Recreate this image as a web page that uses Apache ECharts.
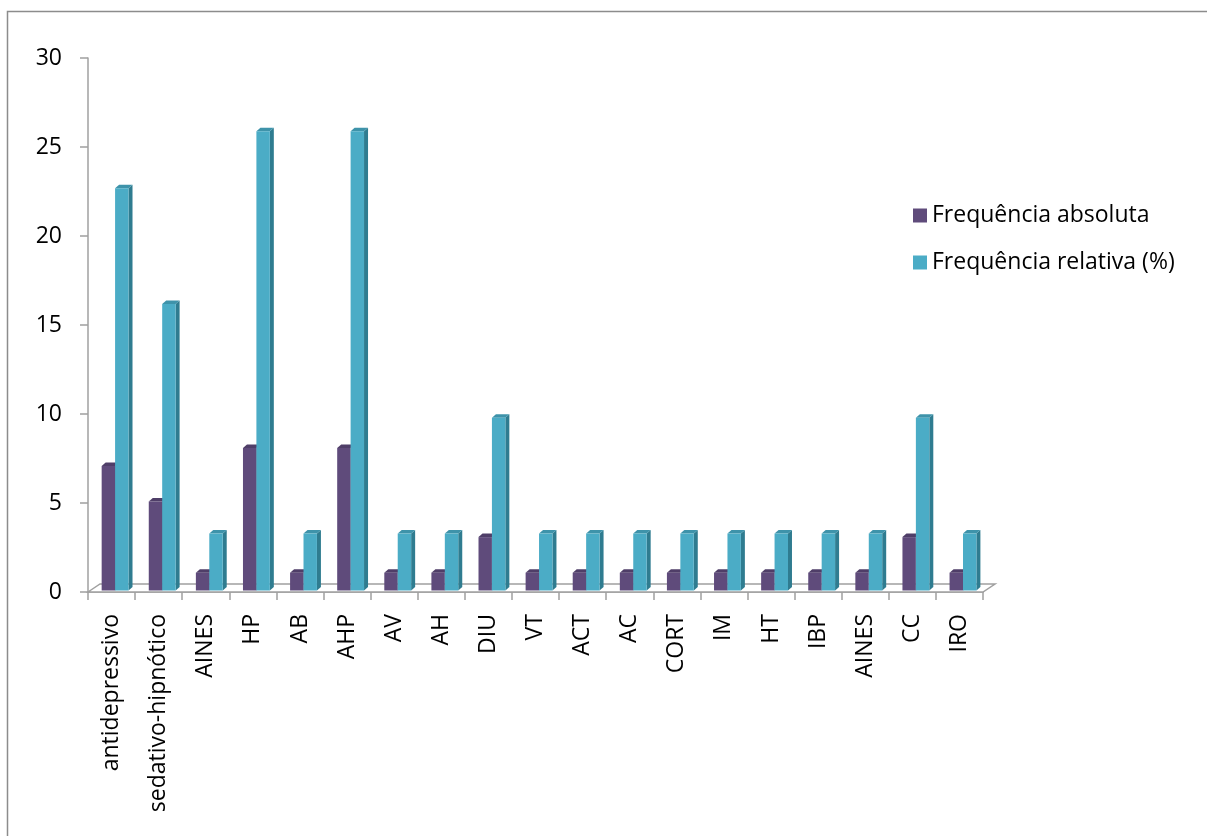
<!DOCTYPE html>
<html>
<head>
<meta charset="utf-8">
<script src="https://cdn.jsdelivr.net/npm/echarts@6/dist/echarts.min.js"></script>
<style>
  html, body { margin: 0; padding: 0; background: #fff; }
  #chart { width: 1207px; height: 836px; }
</style>
</head>
<body>
<div id="chart"></div>
<script>
// Drug classes on the x axis
const categories = ['antidepressivo', 'sedativo-hipnótico', 'AINES', 'HP', 'AB', 'AHP', 'AV', 'AH', 'DIU', 'VT',
  'ACT', 'AC', 'CORT', 'IM', 'HT', 'IBP', 'AINES', 'CC', 'IRO'];
// Absolute frequency per class
const absoluta = [7, 5, 1, 8, 1, 8, 1, 1, 3, 1, 1, 1, 1, 1, 1, 1, 1, 3, 1];
// Relative frequency (%) per class
const relativa = [22.6, 16.1, 3.2, 25.8, 3.2, 25.8, 3.2, 3.2, 9.7, 3.2, 3.2, 3.2, 3.2, 3.2, 3.2, 3.2, 3.2, 9.7, 3.2];
const seriesNames = ['Frequência absoluta', 'Frequência relativa (%)'];
const yTicks = [0, 5, 10, 15, 20, 25, 30];

const FONT = 'Open Sans';
const DEPTH_X = 4, DEPTH_Y = 3.5;      // bar extrusion
const FLOOR_X = 12, FLOOR_Y = 8;        // floor extrusion

// face colours: [front, side, top]
const palette = [
  ['#5F4B7B', '#47385E', '#4F3E68'],
  ['#4BACC6', '#2F7C90', '#3E93AA']
];

// each bar: start offset and width as fractions of the category band
const barStart = [0.29, 0.575];
const barWidth = 0.285;

function bar3d(seriesIndex) {
  const [front, side, top] = palette[seriesIndex];
  return function (params, api) {
    const idx = api.value(0);
    const val = api.value(1);
    const base = api.coord([idx, 0]);
    const head = api.coord([idx, val]);
    const band = api.size([1, 0])[0];
    const x0 = base[0] - band / 2 + barStart[seriesIndex] * band;
    const w = barWidth * band;
    const yb = base[1] - 1.5;
    const yt = head[1] - 1.5;
    return {
      type: 'group',
      children: [
        { type: 'polygon', shape: { points: [[x0 + w, yb], [x0 + w + DEPTH_X, yb - DEPTH_Y], [x0 + w + DEPTH_X, yt - DEPTH_Y], [x0 + w, yt]] }, style: { fill: side } },
        { type: 'polygon', shape: { points: [[x0, yt], [x0 + DEPTH_X, yt - DEPTH_Y], [x0 + w + DEPTH_X, yt - DEPTH_Y], [x0 + w, yt]] }, style: { fill: top } },
        { type: 'rect', shape: { x: x0, y: yt, width: w, height: yb - yt }, style: { fill: front } }
      ]
    };
  };
}

function floor(params, api) {
  const cs = params.coordSys;
  const yb = cs.y + cs.height;
  const xl = cs.x, xr = cs.x + cs.width;
  return {
    type: 'polygon',
    z2: -1,
    shape: { points: [[xl, yb], [xl + FLOOR_X, yb - FLOOR_Y], [xr + FLOOR_X, yb - FLOOR_Y], [xr, yb]] },
    style: { fill: '#fff', stroke: '#A0A0A0', lineWidth: 1.5 }
  };
}

const chart = echarts.init(document.getElementById('chart'));
chart.setOption({
  animation: false,
  backgroundColor: '#fff',
  graphic: [{
    type: 'rect',
    shape: { x: 7.5, y: 11.5, width: 1240, height: 860 },
    style: { fill: 'none', stroke: '#8C8C8C', lineWidth: 1.5 },
    silent: true
  }],
  grid: { left: 88, top: 58, width: 895, height: 534, containLabel: false },
  legend: {
    orient: 'vertical',
    left: 908,
    top: 199,
    icon: 'rect',
    itemWidth: 14,
    itemHeight: 14,
    itemGap: 24,
    data: seriesNames,
    textStyle: { fontFamily: FONT, fontSize: 23, color: '#000', padding: [0, 0, 0, 0] }
  },
  xAxis: {
    type: 'category',
    data: categories,
    boundaryGap: true,
    axisLine: { show: true, lineStyle: { color: '#A0A0A0', width: 1.5 } },
    axisTick: { show: true, length: 8, alignWithLabel: false, lineStyle: { color: '#A0A0A0', width: 1.5 } },
    axisLabel: { rotate: 90, interval: 0, margin: 22, fontFamily: FONT, fontSize: 23, color: '#000' },
    splitLine: { show: false }
  },
  yAxis: {
    type: 'value',
    min: yTicks[0],
    max: yTicks[yTicks.length - 1],
    interval: yTicks[1] - yTicks[0],
    axisLine: { show: true, lineStyle: { color: '#A0A0A0', width: 1.5 } },
    axisTick: { show: true, length: 8, lineStyle: { color: '#A0A0A0', width: 1.5 } },
    axisLabel: { margin: 26, fontFamily: FONT, fontSize: 23, color: '#000' },
    splitLine: { show: false }
  },
  series: [
    {
      type: 'custom',
      name: 'floor',
      renderItem: floor,
      data: [[0, 0]],
      z: 1,
      silent: true
    },
    {
      type: 'custom',
      name: seriesNames[0],
      renderItem: bar3d(0),
      itemStyle: { color: palette[0][0] },
      encode: { x: 0, y: 1 },
      data: absoluta.map((v, i) => [i, v]),
      z: 2
    },
    {
      type: 'custom',
      name: seriesNames[1],
      renderItem: bar3d(1),
      itemStyle: { color: palette[1][0] },
      encode: { x: 0, y: 1 },
      data: relativa.map((v, i) => [i, v]),
      z: 2
    }
  ]
});
</script>
</body>
</html>
